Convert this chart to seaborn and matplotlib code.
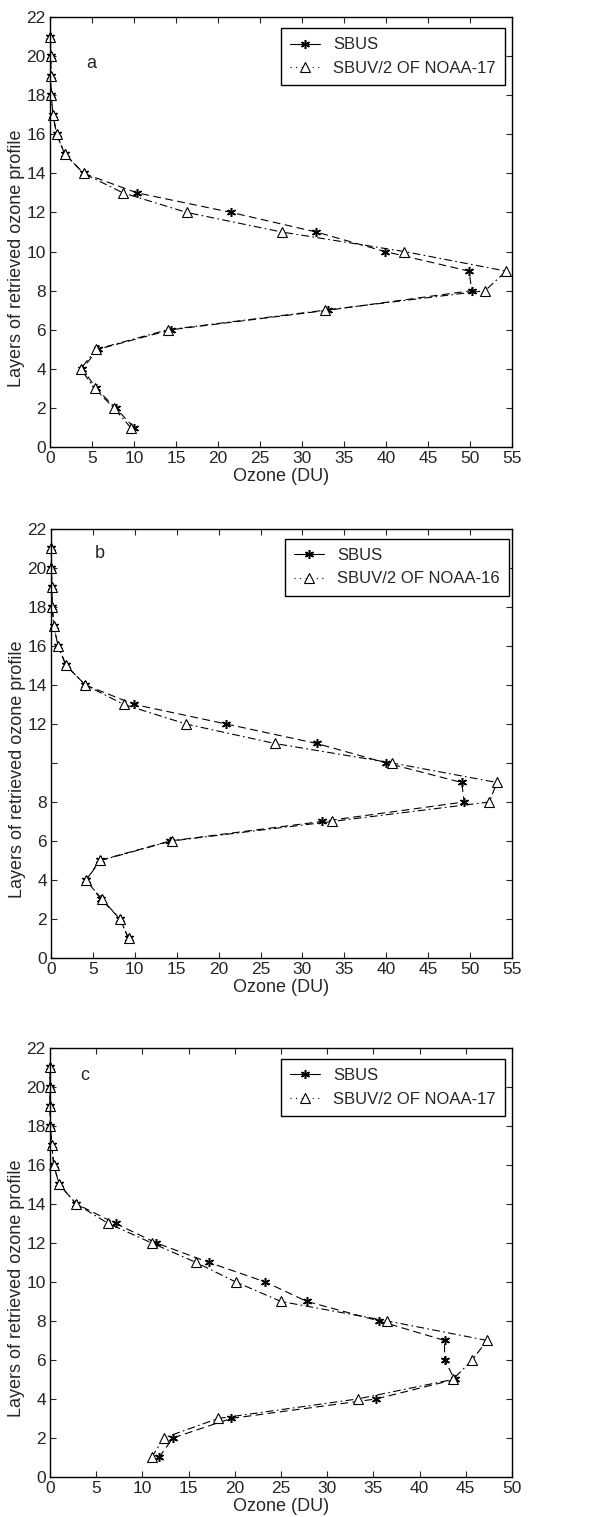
import numpy as np
import pandas as pd
import matplotlib
matplotlib.use("Agg")
import matplotlib.pyplot as plt
import seaborn as sns
from matplotlib.lines import Line2D

# ------------------------------------------
# Data
# ------------------------------------------
layers = list(range(1, 22))

# panel a : SBUS vs SBUV/2 of NOAA-17
sbus_a = [10.0, 7.8, 5.5, 3.85, 5.7, 14.4, 33.1, 50.2, 49.9, 39.9, 31.7,
          21.6, 10.4, 4.0, 1.75, 0.8, 0.35, 0.15, 0.1, 0.1, 0.05]
sbuv_a = [9.6, 7.6, 5.3, 3.65, 5.5, 14.0, 32.7, 51.8, 54.3, 42.2, 27.6,
          16.3, 8.7, 4.0, 1.75, 0.8, 0.35, 0.15, 0.1, 0.1, 0.05]

# panel b : SBUS vs SBUV/2 of NOAA-16
sbus_b = [9.25, 8.25, 6.0, 4.2, 5.8, 14.2, 32.3, 49.3, 49.0, 40.0, 31.7,
          20.9, 9.95, 4.1, 1.8, 0.85, 0.35, 0.15, 0.1, 0.05, 0.05]
sbuv_b = [9.25, 8.25, 6.1, 4.2, 5.9, 14.4, 33.5, 52.3, 53.2, 40.7, 26.7,
          16.1, 8.7, 4.1, 1.8, 0.85, 0.35, 0.15, 0.1, 0.05, 0.05]

# panel c : SBUS vs SBUV/2 of NOAA-17
sbus_c = [11.8, 13.3, 19.6, 35.3, 43.8, 42.7, 42.7, 35.6, 27.8, 23.3, 17.2,
          11.5, 7.1, 2.85, 1.0, 0.4, 0.2, 0.05, 0.0, 0.0, 0.0]
sbuv_c = [11.0, 12.3, 18.2, 33.3, 43.6, 45.7, 47.3, 36.5, 25.0, 20.1, 15.8,
          11.0, 6.3, 2.85, 1.0, 0.4, 0.2, 0.05, 0.0, 0.0, 0.0]

panel_letters = ["a", "b", "c"]
satellites = ["SBUV/2 OF NOAA-17", "SBUV/2 OF NOAA-16", "SBUV/2 OF NOAA-17"]
x_max = [55, 55, 50]
y_ticks = list(range(0, 23, 2))
y_ticklabels_b = ["0", "2", "4", "6", "8", "", "12", "14", "16", "18", "20", "22"]

# ------------------------------------------
# Style
# ------------------------------------------
sns.set_style("ticks")
plt.rcParams["font.family"] = ["Liberation Sans", "DejaVu Sans"]
plt.rcParams["font.size"] = 12

fig = plt.figure(figsize=(6.15, 15.17), dpi=100)

# axes boxes in figure fraction [left, bottom, width, height]
boxes = [
    [0.0813, 0.7053, 0.7512, 0.2835],
    [0.0829, 0.3685, 0.7496, 0.2828],
    [0.0813, 0.0264, 0.7512, 0.2828],
]
legend_anchor = [(0.985, 0.974), (0.9935, 0.9767), (0.985, 0.974)]
letter_pos = [(0.078, 0.881), (0.095, 0.932), (0.065, 0.925)]

series = [(sbus_a, sbuv_a), (sbus_b, sbuv_b), (sbus_c, sbuv_c)]

asterisk = (6, 2, 0)
dash_sbus = (0, (7, 4))
dash_sbuv = (0, (7, 3, 1.5, 3))

for i in range(3):
    ax = fig.add_axes(boxes[i])
    sbus, sbuv = series[i]

    df = pd.DataFrame({"layer": layers, "SBUS": sbus, "SBUV": sbuv})

    sns.lineplot(data=df, x="SBUS", y="layer", sort=False, estimator=None,
                 ax=ax, color="black", linewidth=0.8, linestyle=dash_sbus,
                 marker=asterisk, markersize=6.5, markeredgewidth=1.1,
                 markeredgecolor="black", clip_on=False)
    sns.lineplot(data=df, x="SBUV", y="layer", sort=False, estimator=None,
                 ax=ax, color="black", linewidth=0.8, linestyle=dash_sbuv,
                 marker="^", markersize=6.5, markerfacecolor="white",
                 markeredgecolor="black", markeredgewidth=0.8, clip_on=False)

    ax.set_xlim(0, x_max[i])
    ax.set_ylim(0, 22)
    ax.set_xticks(list(range(0, x_max[i] + 1, 5)))
    ax.set_yticks(y_ticks)
    if i == 1:
        ax.set_yticklabels(y_ticklabels_b)

    ax.tick_params(direction="in", length=4, width=0.8, top=True, right=True,
                   labelsize=12.5, pad=3)
    for sp in ax.spines.values():
        sp.set_visible(True)
        sp.set_linewidth(1.0)
        sp.set_color("black")

    ax.set_xlabel("Ozone (DU)", fontsize=13, labelpad=1)
    ax.set_ylabel("Layers of retrieved ozone profile", fontsize=13)
    ax.yaxis.set_label_coords(-0.054, 0.44)

    ax.text(letter_pos[i][0], letter_pos[i][1], panel_letters[i],
            transform=ax.transAxes, fontsize=13)

    handles = [
        Line2D([], [], color="black", linewidth=0.8, linestyle="-",
               marker=asterisk, markersize=6.5, markeredgewidth=1.1),
        Line2D([], [], color="black", linewidth=0.8, linestyle=(0, (1, 4)),
               marker="^", markersize=6.5, markerfacecolor="white",
               markeredgewidth=0.8),
    ]
    leg = ax.legend(handles, ["SBUS", satellites[i]], loc="upper right",
                    bbox_to_anchor=legend_anchor[i], borderaxespad=0,
                    fancybox=False, framealpha=1, edgecolor="black",
                    fontsize=12, handlelength=1.8, handletextpad=0.8,
                    borderpad=0.55, labelspacing=0.5)
    leg.get_frame().set_linewidth(1.0)

fig.savefig("out.png", dpi=100)
